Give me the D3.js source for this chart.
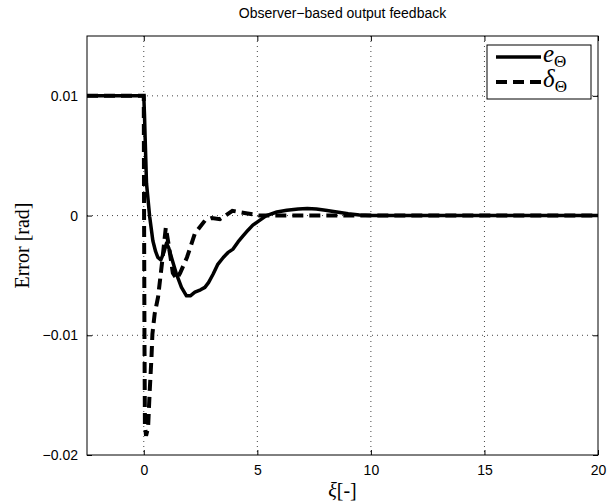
<!DOCTYPE html>
<html lang="en">
    <head>
        <meta charset="utf-8">
        <title>Observer-based output feedback</title>
        <script type="text/javascript" src="https://d3js.org/d3.v7.min.js"></script>
        <style type="text/css">
            body{
                margin: 0;
                background-color: white;
            }
            .tick text{
                font-family: "Liberation Sans", Arial, sans-serif;
                font-size: 14px;
            }
        </style>
    </head>
    <body>
        <script type="text/javascript">

        //sizes of the figure
        const width = 608;
        const height = 504;
        const margin = {top: 36, right: 10, bottom: 49, left: 87};

        //DATA
        //e_Theta (solid line)
        const xE = [-2.5, 0, 0.03, 0.06, 0.12, 0.26, 0.4, 0.52, 0.62, 0.75, 0.88, 1.0, 1.1, 1.22, 1.44, 1.66, 1.88, 2.05, 2.25, 2.5, 2.69, 2.85, 3.05, 3.25, 3.5, 3.7, 3.93, 4.15, 4.37, 4.6, 4.8, 5.1, 5.4, 5.86, 6.3, 6.8, 7.2, 7.6, 8.0, 8.5, 9.0, 9.5, 10, 11, 12, 14, 16, 18, 20];
        const yE = [0.01, 0.01, 0.0085, 0.0065, 0.0027, -0.0001, -0.0021, -0.003, -0.0035, -0.0037, -0.0031, -0.0023, -0.0027, -0.0035, -0.0049, -0.006, -0.0067, -0.0067, -0.0064, -0.0062, -0.006, -0.0056, -0.0049, -0.0041, -0.0035, -0.0031, -0.0028, -0.0022, -0.0017, -0.0012, -0.0008, -0.0004, 0, 0.0003, 0.00045, 0.00055, 0.0006, 0.00055, 0.00045, 0.0003, 0.00015, 0.00005, 0, 0, 0, 0, 0, 0, 0];

        //delta_Theta (dashed line)
        const xD = [-2.5, 0, 0.01, 0.03, 0.05, 0.1, 0.19, 0.26, 0.34, 0.38, 0.48, 0.63, 0.8, 0.97, 1.1, 1.28, 1.45, 1.6, 1.9, 2.25, 2.7, 3.0, 3.35, 3.6, 3.9, 4.2, 4.5, 5.1, 6, 8, 10, 15, 20];
        const yD = [0.01, 0.01, 0.002, -0.01, -0.0175, -0.0184, -0.0177, -0.0147, -0.0118, -0.0099, -0.0082, -0.0068, -0.004, -0.001, -0.0025, -0.0048, -0.0053, -0.0048, -0.0035, -0.0015, -0.0004, -0.0002, -0.0003, 0, 0.0004, 0.0003, 0.0002, 0, 0, 0, 0, 0, 0];

        //tick values
        const xTicks = [0, 5, 10, 15, 20];
        const yTicks = [-0.02, -0.01, 0, 0.01];

        //SCALES
        const xScale = d3.scaleLinear()
                        .domain([-2.5, 20])
                        .range([margin.left, width - margin.right]);

        const yScale = d3.scaleLinear()
                        .domain([-0.02, 0.015])
                        .range([height - margin.bottom, margin.top]);

        //CREATE SVG
        const svg = d3.select("body")
                    .append("svg")
                    .attr("width", width)
                    .attr("height", height);

        //GRID - dotted lines (not on the borders)
        svg.append("g")
            .selectAll("line")
            .data(xTicks.filter(d => d < 20))
            .enter()
            .append("line")
            .attr("x1", d => xScale(d))
            .attr("x2", d => xScale(d))
            .attr("y1", margin.top)
            .attr("y2", height - margin.bottom)
            .attr("stroke", "#444")
            .attr("stroke-width", 1)
            .attr("stroke-dasharray", "1,4");

        svg.append("g")
            .selectAll("line")
            .data(yTicks.filter(d => d > -0.02))
            .enter()
            .append("line")
            .attr("x1", margin.left)
            .attr("x2", width - margin.right)
            .attr("y1", d => yScale(d))
            .attr("y2", d => yScale(d))
            .attr("stroke", "#444")
            .attr("stroke-width", 1)
            .attr("stroke-dasharray", "1,4");

        //AXES - ticks inside, matlab style box
        const fmtY = d => d === 0 ? "0" : d3.format(".2f")(d).replace("-", "\u2212");

        svg.append("g")
            .attr("transform", "translate(0," + (height - margin.bottom) + ")")
            .call(d3.axisBottom(xScale).tickValues(xTicks).tickSizeInner(-5).tickSizeOuter(0).tickPadding(10))
            .call(g => g.select(".domain").remove());

        svg.append("g")
            .attr("transform", "translate(0," + margin.top + ")")
            .call(d3.axisTop(xScale).tickValues(xTicks).tickSizeInner(-5).tickSizeOuter(0).tickFormat(""))
            .call(g => g.select(".domain").remove());

        svg.append("g")
            .attr("transform", "translate(" + margin.left + ",0)")
            .call(d3.axisLeft(yScale).tickValues(yTicks).tickSizeInner(-5).tickSizeOuter(0).tickPadding(9).tickFormat(fmtY))
            .call(g => g.select(".domain").remove());

        svg.append("g")
            .attr("transform", "translate(" + (width - margin.right) + ",0)")
            .call(d3.axisRight(yScale).tickValues(yTicks).tickSizeInner(-5).tickSizeOuter(0).tickFormat(""))
            .call(g => g.select(".domain").remove());

        svg.selectAll(".tick text").attr("fill", "black");

        //LINES
        const line = d3.line()
                       .x(d => xScale(d[0]))
                       .y(d => yScale(d[1]));

        const plot = svg.append("g");

        plot.append("path")
            .datum(d3.zip(xD, yD))
            .attr("d", line)
            .attr("fill", "none")
            .attr("stroke", "black")
            .attr("stroke-width", 4)
            .attr("stroke-dasharray", "11,6");

        plot.append("path")
            .datum(d3.zip(xE, yE))
            .attr("d", line)
            .attr("fill", "none")
            .attr("stroke", "black")
            .attr("stroke-width", 3.5)
            .attr("stroke-linejoin", "round");

        //BOX
        svg.append("rect")
            .attr("x", margin.left)
            .attr("y", margin.top)
            .attr("width", width - margin.left - margin.right)
            .attr("height", height - margin.top - margin.bottom)
            .attr("fill", "none")
            .attr("stroke", "black")
            .attr("stroke-width", 1);

        //TITLE + AXIS LABELS
        svg.append("text")
            .attr("x", (margin.left + width - margin.right) / 2)
            .attr("y", 18)
            .attr("text-anchor", "middle")
            .style("font-family", "'Liberation Sans', Arial, sans-serif")
            .style("font-size", "14px")
            .text("Observer\u2212based output feedback");

        svg.append("text")
            .attr("transform", "translate(29," + ((margin.top + height - margin.bottom) / 2) + ") rotate(-90)")
            .attr("text-anchor", "middle")
            .style("font-family", "'Liberation Serif', serif")
            .style("font-size", "20px")
            .text("Error [rad]");

        const xl = svg.append("text")
            .attr("x", (margin.left + width - margin.right) / 2)
            .attr("y", 497)
            .attr("text-anchor", "middle")
            .style("font-family", "'Liberation Serif', serif")
            .style("font-size", "20px");
        xl.append("tspan").style("font-style", "italic").text("\u03be");
        xl.append("tspan").text("[-]");

        //LEGEND
        const legend = svg.append("g");
        legend.append("rect")
            .attr("x", 487)
            .attr("y", 45)
            .attr("width", 104)
            .attr("height", 54)
            .attr("fill", "white")
            .attr("stroke", "black")
            .attr("stroke-width", 1);

        const items = [
            {name: "e", dash: null, w: 3.5, y: 57},
            {name: "\u03b4", dash: "11,6", w: 4, y: 82}
        ];

        items.forEach(it => {
            legend.append("line")
                .attr("x1", 496)
                .attr("x2", 541)
                .attr("y1", it.y)
                .attr("y2", it.y)
                .attr("stroke", "black")
                .attr("stroke-width", it.w)
                .attr("stroke-dasharray", it.dash);
            const t = legend.append("text")
                .attr("x", 543)
                .attr("y", it.y + 5)
                .style("font-family", "'Liberation Serif', serif")
                .style("font-size", "25px");
            t.append("tspan").style("font-style", "italic").text(it.name);
            t.append("tspan").attr("dy", 5).style("font-size", "17px").text("\u0398");
        });

        </script>
    </body>
</html>
